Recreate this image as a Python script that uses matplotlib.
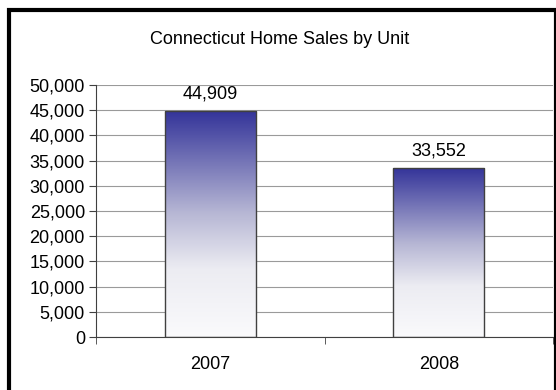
import matplotlib.pyplot as plt
import numpy as np
from matplotlib.colors import LinearSegmentedColormap
from matplotlib.patches import Rectangle

plt.rcParams['font.family'] = ['Liberation Sans', 'DejaVu Sans']

years = ['2007', '2008']
sales = [44909, 33552]
yticks = list(range(0, 50001, 5000))

fig = plt.figure(figsize=(5.56, 3.9), dpi=100)
ax = fig.add_axes([96/556, 1-337/390, 457/556, 252/390])

# bar fill: white at bottom fading to dark blue at top
cmap = LinearSegmentedColormap.from_list(
    'bar', [(0, '#fafafc'), (0.3, '#ececf2'), (0.55, '#b6b6d4'), (1, '#333399')])
grad = np.linspace(0, 1, 256).reshape(-1, 1)

xs = np.arange(len(years))
bars = ax.bar(xs, sales, width=0.4, facecolor='none', edgecolor='#404040', linewidth=1, zorder=3)
for b in bars:
    x0, h, w = b.get_x(), b.get_height(), b.get_width()
    im = ax.imshow(grad, cmap=cmap, origin='lower', aspect='auto',
                   extent=[x0, x0 + w, 0, h], zorder=2)
    im.set_clip_path(b)
    ax.annotate(f'{h:,.0f}', (x0 + w/2, h), xytext=(0, 6), textcoords='offset points',
                ha='center', va='bottom', fontsize=13)

ax.set_xlim(-0.5, len(years) - 0.5)
ax.set_ylim(0, 50000)
ax.set_yticks(yticks)
ax.set_yticklabels([f'{v:,}' for v in yticks], fontsize=13)
ax.set_xticks(xs)
ax.set_xticklabels(years, fontsize=13)
ax.set_xticks([-0.5, 0.5, 1.5], minor=True)
ax.tick_params(axis='x', which='major', length=0, pad=14)
ax.tick_params(axis='x', which='minor', length=5, color='#404040')
ax.tick_params(axis='y', length=5, color='#404040', pad=3)
ax.grid(axis='y', color='#9a9a9a', linewidth=0.8, zorder=0)
ax.set_axisbelow(True)
for s in ['top', 'right']:
    ax.spines[s].set_visible(False)
for s in ['left', 'bottom']:
    ax.spines[s].set_color('#404040')

fig.text(280/556, 1-40/390, 'Connecticut Home Sales by Unit', ha='center', va='center', fontsize=13)

# outer black frame
fig.patches.append(Rectangle((8.5/556, -0.05), 547/556, 1.05 - 10/390,
                             transform=fig.transFigure, fill=False,
                             edgecolor='black', linewidth=3))

fig.savefig('out.png', dpi=100)
